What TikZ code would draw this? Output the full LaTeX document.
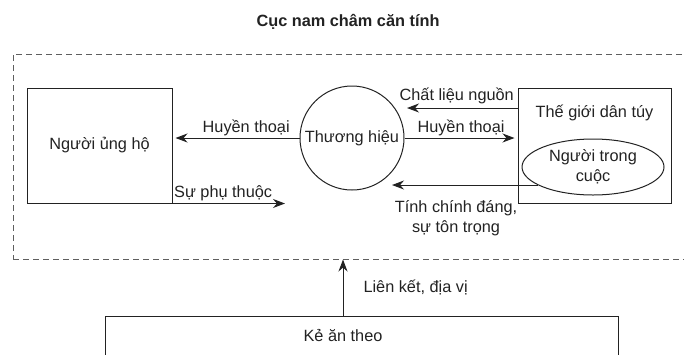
\documentclass[tikz,border=0pt]{standalone}
\usepackage{fontspec}
\setmainfont{Liberation Sans}
\usetikzlibrary{arrows.meta,shapes.geometric,calc,positioning}
\definecolor{ln_gray}{RGB}{34,34,34}
\definecolor{dash_gray}{RGB}{95,95,95}
\tikzstyle{box}=[rectangle,draw=ln_gray,line width=1pt,inner sep=0pt]
\tikzstyle{bn}=[circle,draw=ln_gray,line width=1pt,inner sep=0pt,minimum size=104pt]
\tikzstyle{en}=[ellipse,draw=ln_gray,line width=1pt,inner sep=0pt,
  minimum width=142pt,minimum height=56pt,align=center]
\tikzstyle{arr}=[draw=ln_gray,line width=1pt,-{Stealth[length=12pt,width=9pt]}]
\tikzstyle{lbl}=[inner sep=2pt,text=ln_gray]
\tikzstyle{magnet}=[rectangle,draw=dash_gray,line width=1pt,dash pattern=on 6pt off 4pt]

\begin{document}
\begin{tikzpicture}[x=1pt,y=-1pt,font=\fontsize{16.3}{20}\selectfont,text=ln_gray]
        \useasboundingbox (0,0) rectangle (684,354);
        \node (t) at (348,22) {\textbf{Cục nam châm căn tính}};
        \node [style=magnet,minimum width=687pt,minimum height=205pt] (mag) at (356.5,156.5) {};
        \node [style=box,minimum width=145pt,minimum height=115pt] (sup) at (99.5,145.5) {Người ủng hộ};
        \node [style=bn] (br) at (352,138) {Thương hiệu};
        \node [style=box,minimum width=153pt,minimum height=115pt] (pop) at (594.5,145.5) {};
        \node (popt) at ($(pop.north)+(0,25)$) {Thế giới dân túy};
        \node [style=en] (ins) at (593,167) {Người trong\\cuộc};
        \node [style=box,minimum width=513pt,minimum height=80pt,anchor=north west] (fol) at (105,316) {};
        \node (folt) at (343,335) {Kẻ ăn theo};
        \coordinate (dep) at (285,202);
        \coordinate (src) at (407,108);
        \coordinate (leg) at (392,185);
        \draw [style=arr,shorten >=3pt] (br.west) -- (br.west -| sup.east)
            node [style=lbl,above,pos=0.42] {Huyền thoại};
        \draw [style=arr] (sup.south east) -- (sup.south east -| dep)
            node [style=lbl,above,pos=0.45] {Sự phụ thuộc};
        \draw [style=arr] (pop.west |- src) -- (src)
            node [style=lbl,above,pos=0.55,yshift=2pt] {Chất liệu nguồn};
        \draw [style=arr,shorten >=3pt] (br.east) -- (br.east -| pop.west)
            node [style=lbl,above,pos=0.5] {Huyền thoại};
        \draw [style=arr] (ins.198) -- (ins.198 -| leg)
            node [style=lbl,below,pos=0.56,yshift=-13pt,align=center] {Tính chính đáng,\\sự tôn trọng};
        \draw [style=arr] (fol.north -| folt) -- (mag.south -| folt)
            node [style=lbl,midway,anchor=west,xshift=18pt] {Liên kết, địa vị};
\end{tikzpicture}
\end{document}
